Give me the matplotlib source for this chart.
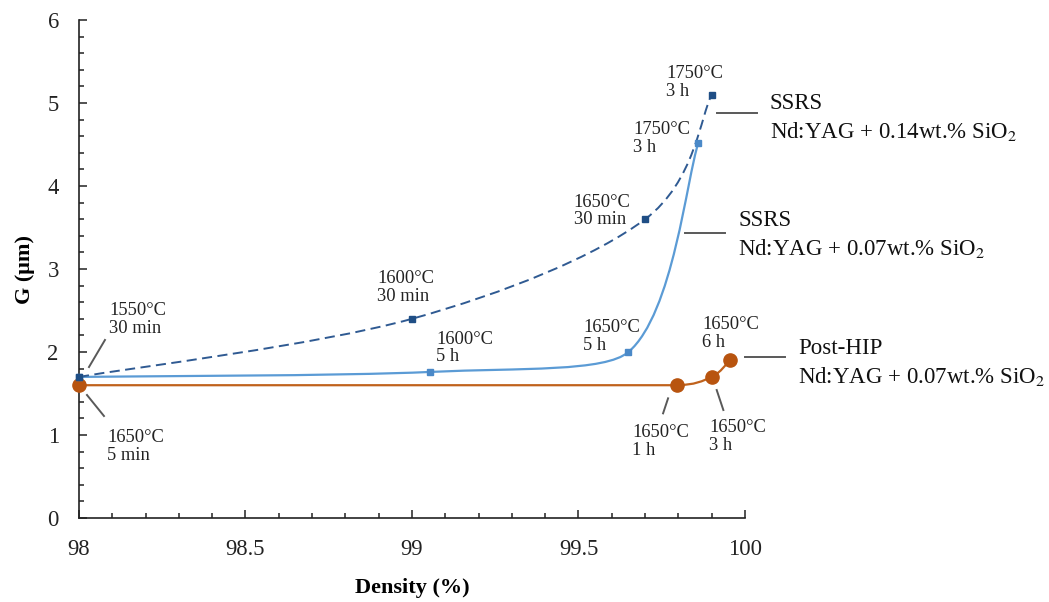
import numpy as np
import matplotlib
matplotlib.use('Agg')
import matplotlib.pyplot as plt
from matplotlib.path import Path
from matplotlib.patches import PathPatch
from matplotlib.ticker import MultipleLocator, FuncFormatter

plt.rcParams['font.family'] = ['Liberation Serif', 'DejaVu Serif']
plt.rcParams['mathtext.fontset'] = 'stix'

# SSRS, Nd:YAG + 0.14wt.% SiO2 (dashed)
density_014 = [98.0, 99.0, 99.70, 99.90]
grain_014 = [1.70, 2.40, 3.60, 5.10]

# SSRS, Nd:YAG + 0.07wt.% SiO2 (solid)
density_007 = [98.0, 99.055, 99.65, 99.86]
grain_007 = [1.70, 1.76, 2.00, 4.52]

# Post-HIP, Nd:YAG + 0.07wt.% SiO2
density_hip = [98.0, 99.795, 99.90, 99.955]
grain_hip = [1.60, 1.60, 1.70, 1.90]

# point labels: (text, x, y)
point_labels = [
    ('1550°C\n30 min', 98.090, 2.39),
    ('1650°C\n5 min', 98.084, 0.86),
    ('1600°C\n30 min', 98.895, 2.78),
    ('1600°C\n5 h', 99.072, 2.05),
    ('1650°C\n30 min', 99.486, 3.70),
    ('1650°C\n5 h', 99.514, 2.19),
    ('1750°C\n3 h', 99.763, 5.25),
    ('1750°C\n3 h', 99.664, 4.57),
    ('1650°C\n6 h', 99.871, 2.22),
    ('1650°C\n1 h', 99.661, 0.92),
    ('1650°C\n3 h', 99.892, 0.98),
]
leaders = [
    ((98.030, 98.078), (1.819, 2.145)),
    ((98.024, 98.075), (1.482, 1.229)),
    ((99.754, 99.769), (1.261, 1.442)),
    ((99.935, 99.915), (1.301, 1.542)),
    ((99.916, 100.036), (4.88, 4.88)),
    ((99.820, 99.940), (3.434, 3.434)),
    ((100.0, 100.12), (1.936, 1.936)),
]
series_labels = [
    ('SSRS', 'Nd:YAG + 0.14wt.% SiO$_2$', 100.075, 4.825),
    ('SSRS', 'Nd:YAG + 0.07wt.% SiO$_2$', 99.979, 3.416),
    ('Post-HIP', 'Nd:YAG + 0.07wt.% SiO$_2$', 100.159, 1.873),
]


def clamp_handle(p, h, a, b, seg_len):
    # shrink handle h from p so the control point stays inside the box a-b
    s = 1.0
    for k in range(2):
        lo, hi = min(a[k], b[k]), max(a[k], b[k])
        q = p[k] + h[k]
        if h[k] != 0 and (q < lo - 1e-9 or q > hi + 1e-9):
            lim = hi if q > hi else lo
            s = min(s, max(0.0, (lim - p[k]) / h[k]))
    n = np.hypot(*h) * s
    if n > seg_len / 2 and n > 0:
        s *= seg_len / 2 / n
    return p + h * s


def smooth_path(xs, ys, sx, sy):
    # smoothed line (Catmull-Rom Bezier) with handles kept monotone
    P = np.column_stack([np.asarray(xs) * sx, np.asarray(ys) * sy])
    n = len(P)
    verts = [P[0]]
    codes = [Path.MOVETO]
    for i in range(n - 1):
        p0 = P[i - 1] if i > 0 else P[i]
        p3 = P[i + 2] if i + 2 < n else P[i + 1]
        d = np.hypot(*(P[i + 1] - P[i]))
        c1 = clamp_handle(P[i], (P[i + 1] - p0) / 6, P[i], P[i + 1], d)
        c2 = clamp_handle(P[i + 1], -(p3 - P[i]) / 6, P[i], P[i + 1], d)
        verts += [c1, c2, P[i + 1]]
        codes += [Path.CURVE4] * 3
    verts = np.array(verts) / [sx, sy]
    return Path(verts, codes)


fig = plt.figure(figsize=(10.49, 6.02), dpi=100)
ax = fig.add_axes([0.0753, 0.1395, 0.6349, 0.8273])
ax.set_xlim(98, 100)
ax.set_ylim(0, 6)

# pixel scale per data unit, so the smoothing works in screen space
sx, sy = 333.0, 83.0

c_hip = '#C0621C'
c_007 = '#5B9BD5'
c_014 = '#2F5A92'

ax.add_patch(PathPatch(smooth_path(density_hip, grain_hip, sx, sy), fill=False,
                       edgecolor=c_hip, lw=1.6, zorder=2))
ax.add_patch(PathPatch(smooth_path(density_007, grain_007, sx, sy), fill=False,
                       edgecolor=c_007, lw=1.6, zorder=3))
ax.add_patch(PathPatch(smooth_path(density_014, grain_014, sx, sy), fill=False,
                       edgecolor=c_014, lw=1.4, linestyle=(0, (5.2, 2.8)), zorder=4))

ax.plot(density_hip, grain_hip, 'o', color='#B8540F', ms=9.5, zorder=5, clip_on=False)
ax.plot(density_007, grain_007, 's', color='#4A89C8', ms=5, zorder=6, clip_on=False)
ax.plot(density_014, grain_014, 's', color='#1F4E85', ms=5, zorder=7, clip_on=False)

for txt, x, y in point_labels:
    ax.text(x, y, txt, fontsize=13.3, ha='left', va='center', linespacing=1.05,
            color='#222222', zorder=8)

for xs, ys in leaders:
    ax.plot(xs, ys, color='#595959', lw=1.4, clip_on=False, zorder=8)

for l1, l2, x, y in series_labels:
    ax.text(x, y + 0.17, l1, fontsize=16.5, ha='left', va='center',
            color='#111111', clip_on=False)
    ax.text(x, y - 0.17, l2, fontsize=16.5, ha='left', va='center',
            color='#111111', clip_on=False)

ax.spines['top'].set_visible(False)
ax.spines['right'].set_visible(False)
for s in ('left', 'bottom'):
    ax.spines[s].set_linewidth(1.2)
    ax.spines[s].set_color('#222222')

ax.xaxis.set_major_locator(MultipleLocator(0.5))
ax.xaxis.set_minor_locator(MultipleLocator(0.1))
ax.yaxis.set_major_locator(MultipleLocator(1))
ax.yaxis.set_minor_locator(MultipleLocator(0.2))
ax.xaxis.set_major_formatter(FuncFormatter(lambda v, p: '%g' % v))
ax.tick_params(which='both', direction='in', colors='#222222', width=1.1)
ax.tick_params(which='major', length=5.5, labelsize=16.3)
ax.tick_params(axis='x', which='major', pad=15)
ax.tick_params(axis='y', which='major', pad=14.5)
ax.tick_params(which='minor', length=3.5)

ax.set_xlabel('Density (%)', fontsize=16, fontweight='bold', labelpad=13)
ax.set_ylabel('G (μm)', fontsize=16, fontweight='bold', labelpad=9)

fig.savefig('out.png', dpi=100)
